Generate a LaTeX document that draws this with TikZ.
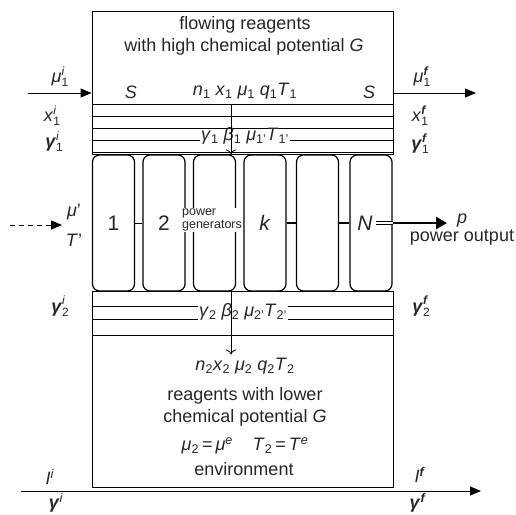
\documentclass[tikz,border=0pt]{standalone}
\usepackage{fontspec}
\setmainfont{Liberation Sans}
\usetikzlibrary{arrows.meta,positioning}

\newcommand*{\xl}{92}
\newcommand*{\xr}{393}
% stacked super- and subscript
\newcommand*{\ind}[2]{\raisebox{-4pt}{\fontsize{12}{10.5}\selectfont\shortstack[l]{#1\\#2}}}
\newcommand*{\gb}{\textbf{\textit{γ}}}

\begin{document}
\begin{tikzpicture}
[
	x=1pt,
	y=-1pt,
	every node/.style={font=\fontsize{18}{20}\selectfont, text=black!85},
	plate/.style={draw, line width=0.9pt, inner sep=0pt},
	gen/.style={draw, rounded corners=7pt, line width=1.2pt, minimum width=42pt, minimum height=136pt, inner sep=0pt},
	genlbl/.style={font=\fontsize{21}{23}\selectfont},
	small/.style={font=\fontsize{12.5}{13}\selectfont, align=left, fill=white, inner sep=1pt},
	link/.style={line width=0.7pt},
	thicklink/.style={line width=2.6pt},
	flow/.style={-{Triangle[length=11pt,width=9pt]}, line width=0.9pt},
	drop/.style={-{To[length=5pt]}, line width=0.8pt}
]

	\useasboundingbox (0,0) rectangle (516,514);

	% plates
	\node[plate, minimum width=301pt, minimum height=143pt] (upper) at (242.5,82.5) {};
	\node[plate, minimum width=301pt, minimum height=196pt] (lower) at (242.5,389) {};

	% layers
	\foreach \y in {104,116,128,152} {
		\draw[thin] (\xl,\y) -- (\xr,\y);
	}
	\draw[thin] (\xl,335) -- (\xr,335);

	% power generators
	\foreach \n/\x in {1/113.5, 2/164, 3/214.5, 4/265, 5/317.5, 6/371} {
		\node[gen] (g\n) at (\x,223) {};
	}
	\node[genlbl] (l1) at (g1) {1};
	\node[genlbl] (l2) at (g2) {2};
	\node[genlbl] (lk) at (g4) {\textit{k}};
	\node[genlbl] (lN) at ([xshift=-6pt]g6.center) {\textit{N}};
	\node[small] (pg) at (212,220) {power\\generators};

	\draw[link] (g1.east) -- (g2.west);
	\draw[thicklink] (g4.east) -- (g5.west);
	\draw[thicklink] (g5.east) -- (g6.west);

	% power output
	\coordinate (pend) at (447,223);
	\draw[double, double distance=2.2pt, line width=0.9pt] (lN.east) -- (g6.east);
	\draw[line width=2.6pt, -{Triangle[length=11pt,width=12pt]}] (g6.east) -- (pend);
	\node (p) at (462,221) {\textit{p}};
	\node[below=-5pt of p] (pout) {power output};

	% upper reagents
	\node (t1) at (245,25) {flowing reagents};
	\node (t2) at (244,47) {with high chemical potential \textit{G}};
	\node (sl) at (131,92) {\textit{S}};
	\node (sr) at (369,92) {\textit{S}};
	\node (st1) at (245,91) {\textit{n}\textsubscript{1} \textit{x}\textsubscript{1} \textit{μ}\textsubscript{1} \textit{q}\textsubscript{1}\textit{T}\textsubscript{1}};
	\node[inner sep=1pt] (st1p) at (245,136) {\textit{γ}\textsubscript{1} \textit{β}\textsubscript{1} \textit{μ}\textsubscript{1'}\textit{T}\textsubscript{1'}};
	\coordinate (w1) at (\xl,140);
	\coordinate (e1) at (\xr,140);
	\draw[thin] (w1) -- (w1 -| st1p.west);
	\draw[thin] (st1p.east |- e1) -- (e1);
	\coordinate (d1) at (231,104);
	\draw[drop] (d1) -- (d1 |- g3.north);

	% lower reagents
	\node[inner sep=1pt] (st2p) at (243,312) {\textit{γ}\textsubscript{2} \textit{β}\textsubscript{2} \textit{μ}\textsubscript{2'}\textit{T}\textsubscript{2'}};
	\foreach \y in {306,319} {
		\coordinate (w) at (\xl,\y);
		\coordinate (e) at (\xr,\y);
		\draw[thin] (w) -- (w -| st2p.west);
		\draw[thin] (st2p.east |- e) -- (e);
	}
	\node (st2) at (245,366) {\textit{n}\textsubscript{2}\textit{x}\textsubscript{2} \textit{μ}\textsubscript{2} \textit{q}\textsubscript{2}\textit{T}\textsubscript{2}};
	\coordinate (d2) at (231,291);
	\draw[drop] (d2) -- (d2 |- st2.north);
	\node (t3) at (245,396) {reagents with lower};
	\node (t4) at (245,418) {chemical potential \textit{G}};
	\node (t5) at (245,446) {\textit{μ}\textsubscript{2}\,=\,\textit{μ}\textsuperscript{\textit{e}}\hspace{1.1em}\textit{T}\textsubscript{2}\,=\,\textit{T}\textsuperscript{\textit{e}}};
	\node (t6) at (244,469) {environment};

	% inflow and outflow
	\coordinate (in1) at (28,93);
	\draw[flow] (in1) -- (in1 -| upper.west);
	\coordinate (out1) at (476,93);
	\draw[flow] (out1 -| upper.east) -- (out1);
	\node (mu1i) at (60,77) {\textit{μ}\ind{\textit{i}}{1}};
	\node (x1i) at (52,116) {\textit{x}\ind{\textit{i}}{1}};
	\node (g1i) at (54,142) {\gb\ind{\textit{i}}{1}};
	\node (mu1f) at (422,77) {\textit{μ}\ind{\textbf{\textit{f}}}{1}};
	\node (x1f) at (420,116) {\textit{x}\ind{\textbf{\textit{f}}}{1}};
	\node (g1f) at (420,144) {\gb\ind{\textbf{\textit{f}}}{1}};
	\node (g2i) at (60,306) {\gb\ind{\textit{i}}{2}};
	\node (g2f) at (421,306) {\gb\ind{\textbf{\textit{f}}}{2}};

	% heat supply
	\node (muin) at (74,212) {\textit{μ}'};
	\node (Tin) at (74,240) {\textit{T}'};
	\coordinate (dsrc) at (10,225);
	\coordinate (ddst) at (62,225);
	\draw[flow, dash pattern=on 5pt off 4pt] (dsrc) -- (ddst);

	% environment axis
	\coordinate (ax0) at (21,491);
	\coordinate (ax1) at (481,491);
	\draw[flow] (ax0) -- (ax1);
	\node (li) at (50,477) {\textit{I}\textsuperscript{\textit{i}}};
	\node (gi) at (56,503) {\gb\textsuperscript{\textit{i}}};
	\node (lf) at (420,475) {\textit{I}\textsuperscript{\textbf{\textit{f}}}};
	\node (gf) at (418,503) {\gb\textsuperscript{\textbf{\textit{f}}}};

\end{tikzpicture}
\end{document}
